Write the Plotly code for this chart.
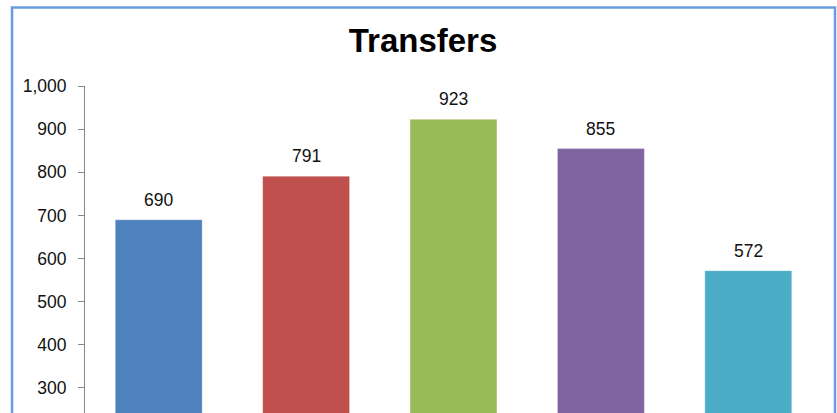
import plotly.graph_objects as go

# chart data
categories = ["A", "B", "C", "D", "E"]
transfers = [690, 791, 923, 855, 572]
bar_colors = ["#4F81BD", "#C0504D", "#9BBB59", "#8064A2", "#4BACC6"]

W, H = 837, 413
L, R, T, B = 85, 14.5, 86, 0
FONT = "Liberation Sans, Arial"

fig = go.Figure()
fig.add_trace(go.Bar(
    x=categories,
    y=transfers,
    marker=dict(color=bar_colors, line=dict(color="rgba(255,255,255,0.35)", width=1)),
    cliponaxis=False,
    hoverinfo="skip",
))

# value labels above the bars
for c, v in zip(categories, transfers):
    fig.add_annotation(x=c, y=v, text=f"{v}", showarrow=False,
                       yanchor="middle", yshift=20,
                       font=dict(family=FONT, size=17.5, color="#111111"))

# chart frame (blue border, bottom is cut off in the view)
pw, ph = W - L - R, H - T - B
fx0 = (12 - L) / pw
fx1 = (835.5 - L) / pw
fy1 = (H - 7.5 - B) / ph
fig.add_shape(type="path", xref="paper", yref="paper",
              path=f"M {fx0} -0.2 L {fx0} {fy1} L {fx1} {fy1} L {fx1} -0.2",
              line=dict(color="#6A9BDC", width=2.5))

fig.update_layout(
    width=W, height=H,
    margin=dict(l=L, r=R, t=T, b=B),
    paper_bgcolor="white", plot_bgcolor="white",
    showlegend=False,
    bargap=0.41,
    title=dict(text="<b>Transfers</b>", x=423 / W, xanchor="center",
               y=1 - 40 / H, yanchor="middle", yref="container",
               font=dict(family=FONT, size=33, color="#000000")),
    xaxis=dict(showticklabels=False, showline=False, showgrid=False, zeroline=False, ticks=""),
    yaxis=dict(range=[242, 1000], dtick=100, tick0=0, tickformat=",",
               showgrid=False, zeroline=False,
               showline=True, linecolor="#868686", linewidth=1,
               ticks="outside", ticklen=6, tickcolor="#868686",
               ticklabelstandoff=8,
               tickfont=dict(family=FONT, size=17.5, color="#111111")),
)

fig.write_html("out.html", config={"displayModeBar": False},
               post_script="document.body.style.margin='0';")
